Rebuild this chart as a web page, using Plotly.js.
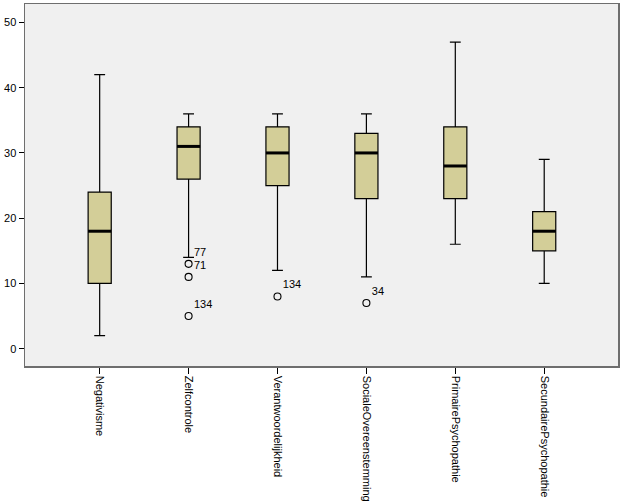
<!DOCTYPE html>
<html>
<head>
<meta charset="utf-8">
<script src="https://cdn.plot.ly/plotly-3.0.1.min.js"></script>
<style>
  html, body { margin: 0; padding: 0; background: #ffffff; }
  #chart { width: 626px; height: 501px; }
</style>
</head>
<body>
<div id="chart"></div>
<script>
// Categories and box statistics
const categories = ["Negativisme", "Zelfcontrole", "Verantwoordelijkheid", "SocialeOvereenstemming", "PrimairePsychopathie", "SecundairePsychopathie"];
const lowerWhisker = [2, 14, 12, 11, 16, 10];
const q1Values     = [10, 26, 25, 23, 23, 15];
const medianValues = [18, 31, 30, 30, 28, 18];
const q3Values     = [24, 34, 34, 33, 34, 21];
const upperWhisker = [42, 36, 36, 36, 47, 29];

// Outliers
const outlierCategory = ["Zelfcontrole", "Zelfcontrole", "Zelfcontrole", "Verantwoordelijkheid", "SocialeOvereenstemming"];
const outlierValue    = [13, 11, 5, 8, 7];
const outlierLabel    = ["77", "71", "134", "134", "34"];

const yTicks = [0, 10, 20, 30, 40, 50];

const fontFamily = "Liberation Sans, Arial, sans-serif";

const boxTrace = {
  type: "box",
  x: categories,
  q1: q1Values,
  median: medianValues,
  q3: q3Values,
  lowerfence: lowerWhisker,
  upperfence: upperWhisker,
  boxpoints: false,
  width: 0.26,
  whiskerwidth: 0.47,
  fillcolor: "#d3ce98",
  line: { color: "#000000", width: 1.2 },
  hoverinfo: "skip",
  showlegend: false
};

const medianTrace = {
  type: "scatter",
  mode: "markers",
  x: categories,
  y: medianValues,
  marker: { symbol: "line-ew", size: 16.5, line: { color: "#000000", width: 3 } },
  hoverinfo: "skip",
  showlegend: false
};

const outlierTrace = {
  type: "scatter",
  mode: "markers+text",
  x: outlierCategory,
  y: outlierValue,
  text: outlierLabel,
  textposition: "top right",
  textfont: { family: fontFamily, size: 11, color: "#000000" },
  marker: { symbol: "circle-open", size: 7, color: "#000000", line: { color: "#000000", width: 1.1 } },
  cliponaxis: false,
  hoverinfo: "skip",
  showlegend: false
};

const layout = {
  width: 626,
  height: 501,
  margin: { l: 25, r: 8, t: 4, b: 135, pad: 0 },
  paper_bgcolor: "#ffffff",
  plot_bgcolor: "#f0f0f0",
  font: { family: fontFamily, size: 11, color: "#000000" },
  showlegend: false,
  xaxis: {
    type: "category",
    categoryorder: "array",
    categoryarray: categories,
    range: [-0.84, 5.83],
    showgrid: false,
    zeroline: false,
    showline: true,
    mirror: true,
    linecolor: "#6e6e6e",
    linewidth: 1.5,
    ticks: "outside",
    ticklen: 6,
    tickwidth: 1,
    tickcolor: "#000000",
    tickangle: 90,
    tickfont: { family: fontFamily, size: 11, color: "#000000" },
    fixedrange: true
  },
  yaxis: {
    range: [-2.66, 52.83],
    tickvals: yTicks,
    ticktext: yTicks.map(String),
    showgrid: false,
    zeroline: false,
    showline: true,
    mirror: true,
    linecolor: "#6e6e6e",
    linewidth: 1.5,
    ticks: "outside",
    ticklen: 5,
    tickwidth: 1,
    tickcolor: "#000000",
    tickfont: { family: fontFamily, size: 11, color: "#000000" },
    fixedrange: true
  }
};

Plotly.newPlot("chart", [boxTrace, medianTrace, outlierTrace], layout, { displayModeBar: false, staticPlot: true });
</script>
</body>
</html>
